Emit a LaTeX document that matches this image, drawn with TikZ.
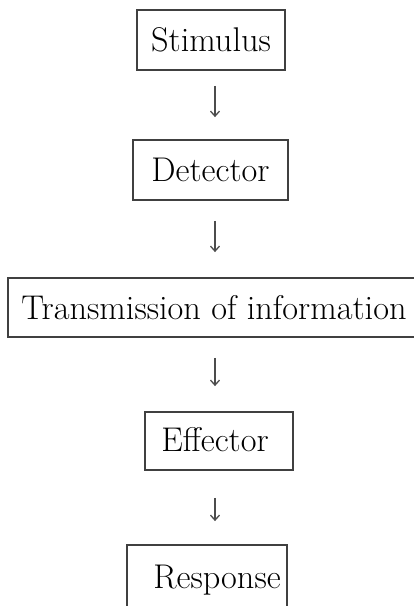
\documentclass[tikz,border=0pt]{standalone}
\usetikzlibrary{arrows.meta,calc}
\begin{document}
\begin{tikzpicture}[x=1pt,y=-1pt,
  box/.style={draw=black!75,line width=1.8pt,inner sep=0pt,anchor=center,
    font=\fontsize{34.3}{40}\selectfont},
  arr/.style={draw=black!70,line width=1.3pt,-{Straight Barb[length=5pt,width=9pt,line width=1.3pt]}}]
\useasboundingbox (0,0) rectangle (414,606);
\node[box,minimum width=148pt,minimum height=60pt] (s) at (211,40) {Stimulus};
\node[box,minimum width=155pt,minimum height=60pt] (d) at (210.5,170) {\raisebox{-2pt}{Detector}};
\node[box,minimum width=412pt,minimum height=59pt] (t) at (214,307.5) {\raisebox{1pt}{Transmission of information}};
\node[box,minimum width=148pt,minimum height=58pt] (e) at (219,441) {\hspace{-8pt}\raisebox{4pt}{Effector}};
\node[box,minimum width=160pt,minimum height=70pt] (r) at (207,580) {\hspace{20pt}Response};
\coordinate (ax) at (215,0);
\draw[arr,shorten <=15pt,shorten >=22pt] (s.south -| ax) -- (d.north -| ax);
\draw[arr,shorten <=20pt,shorten >=25pt] (d.south -| ax) -- (t.north -| ax);
\draw[arr,shorten <=20pt,shorten >=25pt] (t.south -| ax) -- (e.north -| ax);
\draw[arr,shorten <=27pt,shorten >=23pt] (e.south -| ax) -- (r.north -| ax);
\end{tikzpicture}
\end{document}
